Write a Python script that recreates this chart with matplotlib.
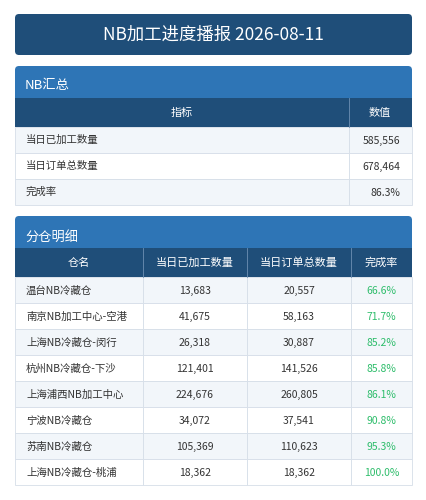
import matplotlib.pyplot as plt
from matplotlib.patches import FancyBboxPatch, Rectangle

plt.rcParams['font.family'] = ['Noto Sans CJK SC', 'DejaVu Sans']

# Data
title = "NB加工进度播报 2026-08-11"
summary_labels = ["当日已加工数量", "当日订单总数量", "完成率"]
summary_values = ["585,556", "678,464", "86.3%"]
detail_cols = ["仓名", "当日已加工数量", "当日订单总数量", "完成率"]
warehouses = ["温台NB冷藏仓", "南京NB加工中心-空港", "上海NB冷藏仓-闵行", "杭州NB冷藏仓-下沙",
              "上海浦西NB加工中心", "宁波NB冷藏仓", "苏南NB冷藏仓", "上海NB冷藏仓-桃浦"]
processed = [13683, 41675, 26318, 121401, 224676, 34072, 105369, 18362]
orders = [20557, 58163, 30887, 141526, 260805, 37541, 110623, 18362]
rates = [66.6, 71.7, 85.2, 85.8, 86.1, 90.8, 95.3, 100.0]

NAVY = "#1f4e79"
BLUE = "#2e75b6"
LIGHT = "#f2f6fa"
GRID = "#d6dee8"
TXT = "#333333"
GREEN = "#2ebd6b"

fig = plt.figure(figsize=(4.26, 5), dpi=100)
ax = fig.add_axes([0, 0, 1, 1])
ax.set_xlim(0, 426)
ax.set_ylim(500, 0)
ax.axis('off')

L, R = 15, 412

def rbox(x0, y0, x1, y1, color):
    ax.add_patch(FancyBboxPatch((x0, y0), x1 - x0, y1 - y0,
                                boxstyle="round,pad=0,rounding_size=4",
                                fc=color, ec='none'))

def rect(x0, y0, x1, y1, color):
    ax.add_patch(Rectangle((x0, y0), x1 - x0, y1 - y0, fc=color, ec=GRID, lw=0.6))

# Title
rbox(L, 14, R, 55, NAVY)
ax.text((L + R) / 2, 35, title, color='white', fontsize=12.5, ha='center', va='center')

# Summary section
rbox(L, 66, R, 104, BLUE)
ax.text(25, 86, "NB汇总", color='white', fontsize=9.5, va='center')
ax.add_patch(Rectangle((L, 98), R - L, 29, fc=NAVY, ec='none'))
ax.plot([349, 349], [98, 127], color='#6d8fb3', lw=0.6)
ax.text(182, 113, "指标", color='white', fontsize=8, ha='center', va='center')
ax.text(380, 113, "数值", color='white', fontsize=8, ha='center', va='center')
for i, (lab, val) in enumerate(zip(summary_labels, summary_values)):
    y0 = 127 + i * 26
    c = LIGHT if i % 2 == 0 else 'white'
    rect(L, y0, 349, y0 + 26, c)
    rect(349, y0, R, y0 + 26, c)
    ax.text(26, y0 + 13, lab, color=TXT, fontsize=7.5, va='center')
    ax.text(400, y0 + 14, val, color=TXT, fontsize=7.5, va='center', ha='right')

# Detail section
rbox(L, 216, R, 254, BLUE)
ax.text(25, 237, "分仓明细", color='white', fontsize=9.5, va='center')
edges = [L, 143, 247, 351, R]
ax.add_patch(Rectangle((L, 248), R - L, 29, fc=NAVY, ec='none'))
for x in edges[1:-1]:
    ax.plot([x, x], [248, 277], color='#6d8fb3', lw=0.6)
for j, col in enumerate(detail_cols):
    ax.text((edges[j] + edges[j + 1]) / 2, 263, col, color='white', fontsize=8, ha='center', va='center')
for i in range(len(warehouses)):
    y0 = 277 + i * 26
    c = LIGHT if i % 2 == 0 else 'white'
    for j in range(4):
        rect(edges[j], y0, edges[j + 1], y0 + 26, c)
    yc = y0 + 13.5
    ax.text(26, yc, warehouses[i], color=TXT, fontsize=7.5, va='center')
    ax.text((edges[1] + edges[2]) / 2, yc, f"{processed[i]:,}", color=TXT, fontsize=7.5, ha='center', va='center')
    ax.text((edges[2] + edges[3]) / 2, yc, f"{orders[i]:,}", color=TXT, fontsize=7.5, ha='center', va='center')
    ax.text((edges[3] + edges[4]) / 2, yc, f"{rates[i]:.1f}%", color=GREEN, fontsize=7.5, ha='center', va='center')

fig.savefig("out.png", dpi=100)
